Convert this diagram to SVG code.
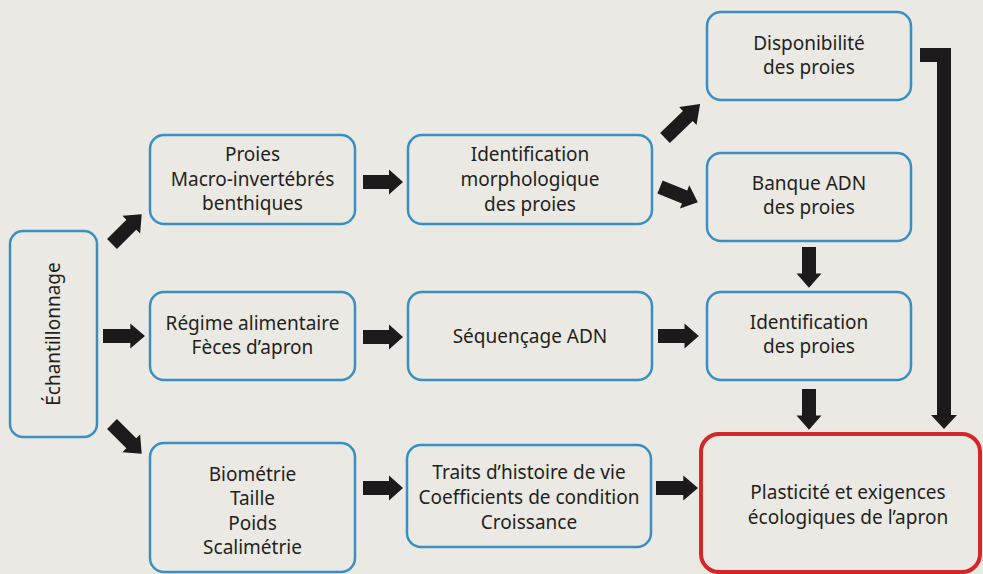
<svg xmlns="http://www.w3.org/2000/svg" width="983" height="574" viewBox="0 0 983 574">
<style>
.box{fill:none;stroke:#3b8fc0;stroke-width:2.5}
.red{fill:none;stroke:#d2272b;stroke-width:4}
text{font-family:"Noto Sans","Open Sans",sans-serif;font-size:19px;fill:#231f20;text-anchor:middle}
.arr{fill:#1c1a1a}
</style>
<defs>
<path id="a40" d="M0,-7 H26 V-12.5 L40,0 L26,12.5 V7 H0 Z"/>
</defs>
<rect width="983" height="574" fill="#ebe9e3"/>
<g id="connectors" class="arr">
<use href="#a40" transform="translate(112,244) rotate(-45) scale(1.05,1)"/>
<use href="#a40" transform="translate(103,336) scale(1.05,1)"/>
<use href="#a40" transform="translate(112,424) rotate(45) scale(1.05,1)"/>
<use href="#a40" transform="translate(363,182)"/>
<use href="#a40" transform="translate(363,337)"/>
<use href="#a40" transform="translate(363,488)"/>
<use href="#a40" transform="translate(665,138) rotate(-44) scale(1.22,1)"/>
<use href="#a40" transform="translate(660,187) rotate(22) scale(1.02,1)"/>
<use href="#a40" transform="translate(658,336) scale(1.02,1)"/>
<use href="#a40" transform="translate(656,488) scale(1.05,1)"/>
<use href="#a40" transform="translate(809,247) rotate(90) scale(1.02,1)"/>
<use href="#a40" transform="translate(809,389) rotate(90) scale(1.02,1)"/>
<path d="M920,48 H951 V415 H957 L944,429 L931,415 H937 V62 H920 Z"/>
</g>
<g id="ech"><rect class="box" x="10" y="231" width="87" height="206" rx="13"/><text transform="translate(60,334) rotate(-90)">Échantillonnage</text></g>
<g id="proies"><rect class="box" x="150" y="135" width="205" height="89" rx="14"/><text x="252.5" y="161">Proies</text><text x="252.5" y="185.5">Macro-invertébrés</text><text x="252.5" y="210">benthiques</text></g>
<g id="idmorph"><rect class="box" x="408" y="135" width="244" height="89" rx="14"/><text x="530" y="161">Identification</text><text x="530" y="186">morphologique</text><text x="530" y="211">des proies</text></g>
<g id="dispo"><rect class="box" x="707" y="12" width="204" height="88" rx="14"/><text x="809" y="50">Disponibilité</text><text x="809" y="74">des proies</text></g>
<g id="banque"><rect class="box" x="707" y="153" width="204" height="88" rx="14"/><text x="809" y="190">Banque ADN</text><text x="809" y="214">des proies</text></g>
<g id="regime"><rect class="box" x="150" y="292" width="205" height="88" rx="14"/><text x="252.5" y="330">Régime alimentaire</text><text x="252.5" y="354">Fèces d’apron</text></g>
<g id="seq"><rect class="box" x="408" y="292" width="244" height="88" rx="14"/><text x="530" y="343">Séquençage ADN</text></g>
<g id="idproies"><rect class="box" x="707" y="292" width="204" height="88" rx="14"/><text x="809" y="329">Identification</text><text x="809" y="353">des proies</text></g>
<g id="biom"><rect class="box" x="150" y="443" width="205" height="129" rx="14"/><text x="252.5" y="481">Biométrie</text><text x="252.5" y="505">Taille</text><text x="252.5" y="530">Poids</text><text x="252.5" y="554">Scalimétrie</text></g>
<g id="traits"><rect class="box" x="407" y="445" width="244" height="102" rx="14"/><text x="529" y="479">Traits d’histoire de vie</text><text x="529" y="504">Coefficients de condition</text><text x="529" y="529">Croissance</text></g>
<g id="plast"><rect class="red" x="701" y="434" width="279" height="138" rx="18"/><text x="848" y="499">Plasticité et exigences</text><text x="848" y="524">écologiques de l’apron</text></g>
</svg>
